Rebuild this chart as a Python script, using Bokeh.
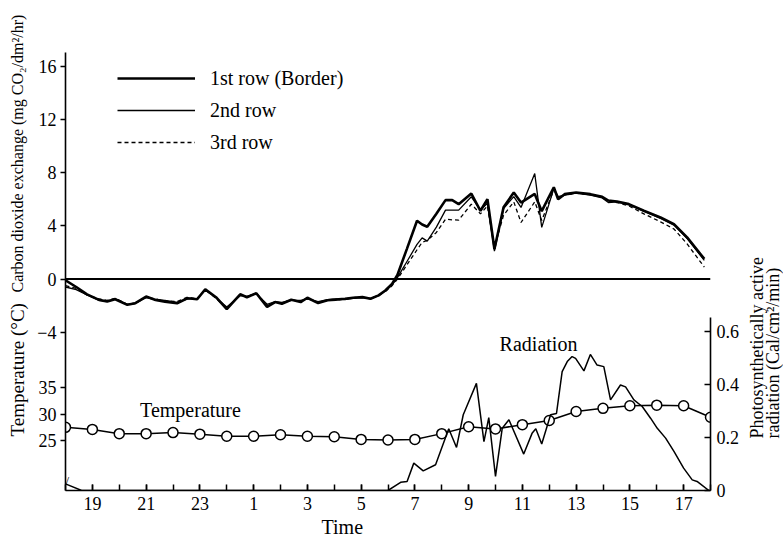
import math
from bokeh.plotting import figure
from bokeh.layouts import row
from bokeh.models import (Range1d, LinearAxis, FixedTicker, Label, Legend,
                          LegendItem, Span, Title)
from bokeh.embed import file_html
from bokeh.resources import INLINE

# ---------------- data ----------------
# time in continuous hours: 18 = 18:00, 24 = 0:00, 42 = 18:00 next day
co2_hours = [18.0, 18.4, 18.8, 19.25, 19.55, 19.85, 20.3, 20.6, 21.0, 21.35,
             21.7, 22.15, 22.55, 22.9, 23.2, 23.6, 24.0, 24.5, 24.75, 25.1,
             25.5, 25.8, 26.05, 26.4, 26.75, 27.0, 27.4, 27.75, 28.05, 28.4,
             28.7, 29.05, 29.35, 29.65, 29.9, 30.15, 30.35, 30.7, 31.08, 31.27,
             31.46, 31.8, 32.14, 32.39, 32.63, 33.1, 33.44, 33.7, 33.96, 34.3,
             34.68, 34.95, 35.46, 35.72, 36.17, 36.33, 36.57, 37.0, 37.53, 37.97,
             38.2, 38.52, 38.96, 39.52, 40.14, 40.64, 41.13, 41.77]
row1 = [-0.1, -0.6, -1.15, -1.57, -1.69, -1.52, -1.94, -1.82, -1.32, -1.57,
        -1.7, -1.82, -1.44, -1.52, -0.77, -1.37, -2.27, -1.15, -1.37, -1.07,
        -2.1, -1.73, -1.86, -1.56, -1.73, -1.41, -1.81, -1.6, -1.55, -1.48,
        -1.41, -1.36, -1.48, -1.23, -0.86, -0.36, 0.3, 2.25, 4.38, 4.1,
        3.93, 4.9, 5.93, 5.93, 5.63, 6.43, 5.13, 6.0, 2.26, 5.4,
        6.5, 5.75, 6.4, 5.1, 6.9, 6.0, 6.38, 6.5, 6.38, 6.18,
        5.9, 5.83, 5.63, 5.13, 4.63, 4.13, 3.13, 1.51]
row2 = [-0.6, -0.8, -1.2, -1.6, -1.65, -1.5, -1.9, -1.8, -1.4, -1.55,
        -1.6, -1.75, -1.5, -1.45, -0.85, -1.4, -2.1, -1.25, -1.3, -1.1,
        -1.9, -1.7, -1.75, -1.6, -1.6, -1.5, -1.7, -1.55, -1.5, -1.55,
        -1.45, -1.4, -1.45, -1.25, -0.9, -0.45, 0.1, 1.3, 2.6, 3.09,
        2.85, 3.9, 5.18, 5.18, 5.18, 6.18, 5.18, 5.7, 2.1, 5.3,
        6.2, 5.38, 7.93, 3.88, 6.8, 6.2, 6.3, 6.45, 6.3, 6.1,
        5.75, 5.8, 5.6, 5.1, 4.55, 4.05, 3.05, 1.4]
row3 = [-0.5, -0.7, -1.2, -1.5, -1.6, -1.45, -1.9, -1.85, -1.35, -1.5,
        -1.65, -1.7, -1.35, -1.5, -0.8, -1.45, -2.2, -1.2, -1.35, -1.05,
        -2.0, -1.75, -1.8, -1.55, -1.7, -1.45, -1.75, -1.6, -1.6, -1.5,
        -1.4, -1.35, -1.5, -1.2, -0.95, -0.5, 0.0, 1.05, 2.2, 2.76,
        2.9, 3.5, 4.5, 4.45, 4.43, 5.63, 4.9, 5.5, 2.4, 4.8,
        5.8, 4.25, 5.8, 4.4, 6.7, 6.1, 6.3, 6.45, 6.35, 6.15,
        5.85, 5.75, 5.5, 4.9, 4.3, 3.76, 2.64, 0.9]

temp_hours = list(range(18, 43))
temperature = [27.5, 27.1, 26.3, 26.3, 26.5, 26.2, 25.8, 25.8, 26.1, 25.8,
               25.7, 25.2, 25.1, 25.2, 26.3, 27.6, 27.2, 28.0, 28.8, 30.5,
               31.1, 31.6, 31.7, 31.6, 29.4]

rad_hours = [18.0, 18.6, 30.0, 30.47, 30.71, 30.96, 31.31, 31.77, 32.26, 32.55,
             32.8, 33.29, 33.57, 33.75, 34.0, 34.25, 34.5, 35.05, 35.36, 35.5,
             35.72, 36.05, 36.27, 36.48, 36.67, 36.85, 36.98, 37.29, 37.53, 37.78,
             38.03, 38.28, 38.65, 38.84, 39.15, 39.46, 39.77, 40.02, 40.33, 40.64,
             41.0, 41.32, 41.5, 41.94]
radiation = [0.025, 0.0, 0.0, 0.031, 0.034, 0.103, 0.074, 0.097, 0.232, 0.162,
             0.285, 0.403, 0.184, 0.274, 0.053, 0.234, 0.266, 0.137, 0.215, 0.232,
             0.175, 0.285, 0.29, 0.447, 0.485, 0.504, 0.497, 0.45, 0.512, 0.472,
             0.466, 0.341, 0.397, 0.39, 0.341, 0.316, 0.272, 0.234, 0.197, 0.147,
             0.084, 0.04, 0.034, 0.0]

co2_ticks = [-4, 0, 4, 8, 12, 16]
temp_ticks = [25, 30, 35]
rad_ticks = [0, 0.2, 0.4, 0.6]
time_ticks = list(range(19, 42, 2))
time_labels = ["19", "21", "23", "1", "3", "5", "7", "9", "11", "13", "15", "17"]

legend_labels = ["1st row (Border)", "2nd row", "3rd row"]

# ---------------- layout ----------------
CO2_RANGE = (-15.9, 20.94)
CO2_AXIS_TOP = 17.03
TEMP_RANGE = (15.51, 108.49)
RAD_RANGE = (0.0, 1.8435)
FONT = "Liberation Serif"
H = 541


def blank(width):
    f = figure(width=width, height=H, output_backend="svg", toolbar_location=None,
               x_range=Range1d(0, 1), y_range=Range1d(0, 1), min_border=0,
               x_axis_location=None, y_axis_location=None, title=None)
    f.xgrid.visible = False
    f.ygrid.visible = False
    f.outline_line_color = None
    return f


left = blank(30)
right = blank(41)

p = figure(width=712, height=H, output_backend="svg", toolbar_location=None,
           x_range=Range1d(18, 42), y_range=Range1d(*CO2_RANGE), title=None,
           min_border_left=35, min_border_right=32, min_border_top=0,
           min_border_bottom=51)
p.extra_y_ranges = {"temp": Range1d(*TEMP_RANGE), "rad": Range1d(*RAD_RANGE)}
p.xgrid.visible = False
p.ygrid.visible = False
p.outline_line_color = None


def style_axis(ax):
    ax.axis_line_color = "black"
    ax.axis_line_width = 1.6
    ax.major_tick_line_color = "black"
    ax.major_tick_line_width = 1.5
    ax.minor_tick_line_color = "black"
    ax.minor_tick_line_width = 1.5
    ax.major_label_text_font = FONT
    ax.major_label_text_font_size = "18px"
    ax.major_label_text_color = "black"


# bottom time axis
xax = p.xaxis[0]
style_axis(xax)
xax.ticker = FixedTicker(ticks=time_ticks, minor_ticks=list(range(18, 43)))
xax.major_label_overrides = {t: lab for t, lab in zip(time_ticks, time_labels)}
xax.major_tick_in = 6
xax.major_tick_out = 0
xax.minor_tick_in = 6
xax.minor_tick_out = 0
xax.major_label_standoff = 6


# left axis: CO2 ticks plus temperature ticks mapped onto the same side
def temp_to_co2(t):
    f = (t - TEMP_RANGE[0]) / (TEMP_RANGE[1] - TEMP_RANGE[0])
    return round(CO2_RANGE[0] + f * (CO2_RANGE[1] - CO2_RANGE[0]), 4)


temp_pos = [temp_to_co2(t) for t in temp_ticks]
yax = p.yaxis[0]
style_axis(yax)
yax.bounds = (CO2_RANGE[0], CO2_AXIS_TOP)
yax.ticker = FixedTicker(ticks=co2_ticks + temp_pos, minor_ticks=[])
ov = {v: ("\u2212" + str(-v) if v < 0 else str(v)) for v in co2_ticks}
ov.update({tp: str(t) for tp, t in zip(temp_pos, temp_ticks)})
yax.major_label_overrides = ov
yax.major_tick_in = 0
yax.major_tick_out = 5
yax.minor_tick_in = 0
yax.minor_tick_out = 0
yax.major_label_standoff = 4

# right radiation axis
rax = LinearAxis(y_range_name="rad", ticker=FixedTicker(ticks=rad_ticks, minor_ticks=[]),
                 bounds=(0, 0.65))
style_axis(rax)
rax.major_label_overrides = {0: "0"}
rax.major_tick_in = 6
rax.major_tick_out = 0
rax.minor_tick_in = 0
rax.minor_tick_out = 0
rax.major_label_standoff = 6
p.add_layout(rax, "right")

p.add_layout(Title(text="Time", align="left", offset=256, standoff=2,
                   text_font=FONT, text_font_size="20px",
                   text_font_style="normal", text_color="black"), "below")

# zero line
p.add_layout(Span(location=0, dimension="width", line_color="black", line_width=1.8))

# CO2 curves
r1 = p.line(co2_hours, row1, line_width=2.6, color="black")
r2 = p.line(co2_hours, row2, line_width=1.3, color="black")
r3 = p.line(co2_hours, row3, line_width=1.3, color="black", line_dash="4 3")

# temperature
p.line(temp_hours, temperature, y_range_name="temp", line_width=1.5, color="black")
p.scatter(temp_hours, temperature, y_range_name="temp", size=10,
          fill_color="white", line_color="black", line_width=1.5)

# radiation
p.line(rad_hours, radiation, y_range_name="rad", line_width=1.5, color="black")

legend = Legend(items=[LegendItem(label=legend_labels[0], renderers=[r1]),
                       LegendItem(label=legend_labels[1], renderers=[r2]),
                       LegendItem(label=legend_labels[2], renderers=[r3])],
                location=(52, 336), padding=0, margin=0, spacing=8,
                glyph_width=78, glyph_height=24, label_height=24,
                label_standoff=15, border_line_color=None,
                background_fill_alpha=0, label_text_font=FONT,
                label_text_font_size="20px", label_text_color="black")
p.add_layout(legend)

lab_kw = dict(text_font=FONT, text_color="black", text_font_size="20px")
p.add_layout(Label(x=22.65, y=30.7, y_range_name="temp", text="Temperature",
                   text_align="center", text_baseline="middle", **lab_kw))
p.add_layout(Label(x=35.6, y=0.553, y_range_name="rad", text="Radiation",
                   text_align="center", text_baseline="middle", **lab_kw))
# axis break mark
p.add_layout(Label(x=0, y=10, x_units="screen", y_units="screen", text="//",
                   text_align="center", text_baseline="middle",
                   text_font=FONT, text_font_size="13px", text_color="black"))

# side axis titles (rotated, reading bottom to top)
left.add_layout(Label(x=17, y=H - 487, x_units="screen", y_units="screen",
                      text="Temperature (\u00b0C)",
                      angle=math.pi / 2, text_align="left", text_baseline="middle",
                      text_font=FONT, text_color="black", text_font_size="19px"))
left.add_layout(Label(x=17, y=H - 343, x_units="screen", y_units="screen",
                      text="Carbon dioxide exchange (mg CO\u2082/dm\u00b2/hr)",
                      angle=math.pi / 2, text_align="left", text_baseline="middle",
                      text_font=FONT, text_color="black", text_font_size="16px"))
rlab_kw = dict(text_font=FONT, text_color="black", text_font_size="18px")
right.add_layout(Label(x=14, y=H - 489, x_units="screen", y_units="screen",
                       text="Photosynthetically active",
                       angle=math.pi / 2, text_align="left", text_baseline="middle",
                       **rlab_kw))
right.add_layout(Label(x=30, y=H - 489, x_units="screen", y_units="screen",
                       text="radiation (Cal/cm\u00b2/min)",
                       angle=math.pi / 2, text_align="left", text_baseline="middle",
                       **rlab_kw))

layout = row(left, p, right)
open("out.html", "w").write(file_html(layout, INLINE))
